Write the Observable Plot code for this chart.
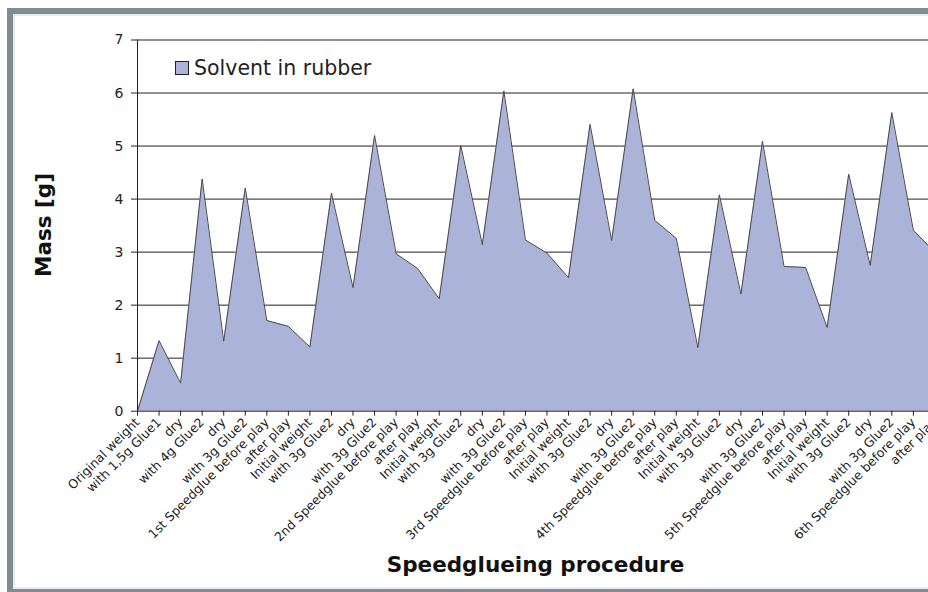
<!DOCTYPE html>
<html>
<head>
<meta charset="utf-8">
<script src="https://cdn.jsdelivr.net/npm/d3@7"></script>
<script src="https://cdn.jsdelivr.net/npm/@observablehq/plot@0.6"></script>
<style>
  html, body { margin: 0; padding: 0; background: #fff; }
  #page { width: 928px; height: 592px; overflow: hidden; position: relative; font-family: "DejaVu Sans", Verdana, sans-serif; }
  #chart { position: absolute; left: 0; top: 0; width: 960px; height: 592px; }
  #chart svg { max-width: none !important; }
  #frame {
    position: absolute; left: 7px; top: 8px; width: 1000px; height: 575px;
    border: 6px solid #808b93; box-shadow: inset 0 0 0 2px #e6ecf2;
    pointer-events: none;
  }
  #legend { position: absolute; left: 175px; top: 56px; display: flex; align-items: center; font-size: 20.5px; color: #222; line-height: 24px; }
  #legend .swatch { width: 12px; height: 12px; background: #abb3d9; border: 1px solid #222; margin-right: 5px; }
</style>
</head>
<body>
<div id="page">
  <div id="chart"></div>
  <div id="legend"><span class="swatch"></span><span>Solvent in rubber</span></div>
  <div id="frame"></div>
</div>
<script>
// Each step of the speedglueing procedure, in order
const steps = [
  "Original weight", "with 1,5g Glue1", "dry", "with 4g Glue2", "dry", "with 3g Glue2",
  "1st Speedglue before play", "after play",
  "Initial weight", "with 3g Glue2", "dry", "with 3g Glue2", "2nd Speedglue before play", "after play",
  "Initial weight", "with 3g Glue2", "dry", "with 3g Glue2", "3rd Speedglue before play", "after play",
  "Initial weight", "with 3g Glue2", "dry", "with 3g Glue2", "4th Speedglue before play", "after play",
  "Initial weight", "with 3g Glue2", "dry", "with 3g Glue2", "5th Speedglue before play", "after play",
  "Initial weight", "with 3g Glue2", "dry", "with 3g Glue2", "6th Speedglue before play", "after play"
];

// Solvent mass held in the rubber after each step (g)
const solventMass = [
  0, 1.33, 0.53, 4.38, 1.32, 4.21, 1.71, 1.60,
  1.21, 4.11, 2.33, 5.20, 2.97, 2.69,
  2.12, 5.01, 3.14, 6.04, 3.23, 2.98,
  2.52, 5.41, 3.22, 6.08, 3.60, 3.26,
  1.20, 4.08, 2.21, 5.09, 2.73, 2.71,
  1.58, 4.47, 2.75, 5.63, 3.41, 3.00
];

const yTicks = [0, 1, 2, 3, 4, 5, 6, 7];

const data = solventMass.map((v, i) => ({i, step: steps[i], mass: v}));

const W = 960, H = 592;
const chart = Plot.plot({
  width: W,
  height: H,
  marginLeft: 137,
  marginRight: 25.6,
  marginTop: 39.5,
  marginBottom: 181.3,
  style: {fontFamily: "DejaVu Sans, Verdana, sans-serif", color: "#222", background: "transparent", maxWidth: "none"},
  x: {type: "linear", domain: [0, steps.length - 1]},
  y: {domain: [0, 7]},
  marks: [
    Plot.ruleY(yTicks.slice(1), {stroke: "#222", strokeWidth: 1}),
    Plot.areaY(data, {x: "i", y: "mass", fill: "#abb3d9"}),
    Plot.line(data, {x: "i", y: "mass", stroke: "#4a4a4a", strokeWidth: 1}),
    Plot.ruleY([0], {stroke: "#222", strokeWidth: 1}),
    Plot.ruleX([0], {stroke: "#222", strokeWidth: 1}),
    Plot.axisY({ticks: yTicks, tickFormat: d3.format("d"), tickSize: 6, tickPadding: 8, fontSize: 14, label: null}),
    Plot.axisX({
      ticks: d3.range(steps.length),
      tickFormat: i => steps[i],
      tickRotate: -45,
      tickSize: 5,
      tickPadding: 4,
      fontSize: 12.5,
      label: null
    })
  ]
});

const svg = d3.select(chart);
svg.append("text")
  .attr("transform", "translate(51,225) rotate(-90)")
  .attr("text-anchor", "middle")
  .attr("font-size", 21.5)
  .attr("font-weight", "bold")
  .attr("fill", "#111")
  .text("Mass [g]");
svg.append("text")
  .attr("x", 535.5)
  .attr("y", 572)
  .attr("text-anchor", "middle")
  .attr("font-size", 21.5)
  .attr("font-weight", "bold")
  .attr("fill", "#111")
  .text("Speedglueing procedure");

document.getElementById("chart").appendChild(chart);
</script>
</body>
</html>
